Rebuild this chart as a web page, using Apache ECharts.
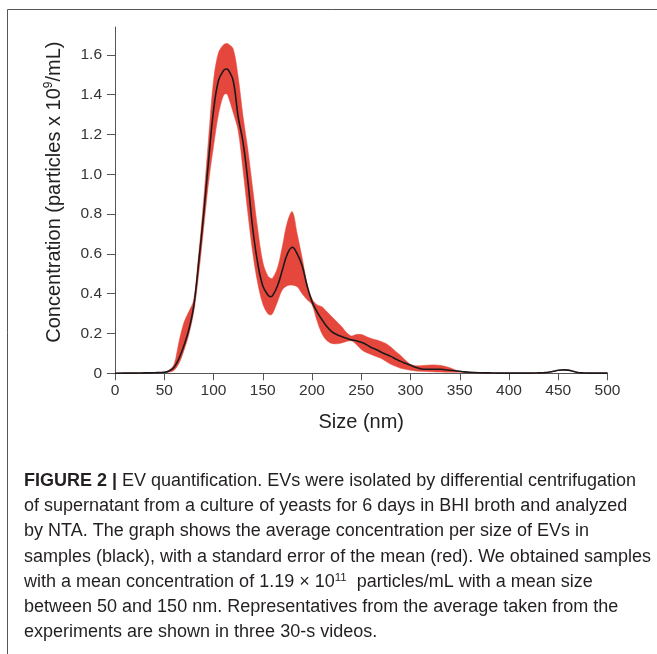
<!DOCTYPE html>
<html>
<head>
<meta charset="utf-8">
<script src="https://cdn.jsdelivr.net/npm/echarts@6/dist/echarts.min.js"></script>
<style>
  html, body { margin: 0; padding: 0; background: #fff; }
  #chart { width: 657px; height: 654px; }
</style>
</head>
<body>
<div id="chart"></div>
<script>
// particle size (nm)
var sizes = [0, 10, 20, 30, 40, 50, 55, 60, 65, 70, 75, 80, 85, 90, 95, 100, 105, 110, 113, 115,
  120, 125, 130, 135, 140, 145, 150, 155, 158, 160, 165, 170, 175, 180, 185, 190, 195, 200,
  205, 210, 215, 220, 225, 230, 235, 240, 245, 250, 255, 260, 265, 270, 275, 280, 285, 290,
  295, 300, 305, 310, 315, 320, 325, 330, 335, 340, 345, 350, 355, 360, 370, 380, 390, 400,
  410, 420, 430, 435, 440, 445, 450, 455, 460, 465, 470, 475, 480, 490, 500];

// average concentration (black)
var meanConc = [0.000, 0.001, 0.001, 0.002, 0.003, 0.005, 0.012, 0.030, 0.075, 0.140, 0.220, 0.340, 0.560, 0.800, 1.070, 1.320, 1.470, 1.520, 1.529, 1.525,
  1.470, 1.290, 1.160, 0.960, 0.720, 0.550, 0.440, 0.395, 0.385, 0.390, 0.440, 0.520, 0.600, 0.633, 0.600, 0.540, 0.440, 0.360,
  0.310, 0.270, 0.235, 0.210, 0.195, 0.185, 0.176, 0.168, 0.164, 0.156, 0.145, 0.130, 0.120, 0.107, 0.096, 0.085, 0.072, 0.060,
  0.050, 0.040, 0.030, 0.023, 0.020, 0.020, 0.020, 0.020, 0.018, 0.015, 0.013, 0.010, 0.007, 0.005, 0.003, 0.002, 0.001, 0.001,
  0.001, 0.001, 0.002, 0.003, 0.005, 0.010, 0.015, 0.017, 0.016, 0.010, 0.004, 0.002, 0.001, 0.001, 0.001];

// mean - SEM (lower edge of red band)
var lowerConc = [0.000, 0.001, 0.001, 0.002, 0.003, 0.004, 0.006, 0.015, 0.050, 0.115, 0.195, 0.310, 0.500, 0.730, 0.960, 1.140, 1.300, 1.395, 1.405, 1.390,
  1.310, 1.220, 1.020, 0.800, 0.600, 0.450, 0.350, 0.300, 0.293, 0.300, 0.360, 0.420, 0.440, 0.443, 0.435, 0.400, 0.370, 0.345,
  0.265, 0.200, 0.165, 0.150, 0.148, 0.152, 0.160, 0.163, 0.145, 0.120, 0.105, 0.095, 0.085, 0.075, 0.060, 0.045, 0.035, 0.025,
  0.020, 0.015, 0.012, 0.010, 0.009, 0.008, 0.007, 0.006, 0.005, 0.005, 0.005, 0.005, 0.004, 0.003, 0.003, 0.002, 0.001, 0.001,
  0.001, 0.001, 0.002, 0.003, 0.005, 0.010, 0.015, 0.017, 0.016, 0.010, 0.004, 0.002, 0.001, 0.001, 0.001];

// mean + SEM (upper edge of red band)
var upperConc = [0.000, 0.001, 0.001, 0.002, 0.003, 0.006, 0.016, 0.045, 0.160, 0.255, 0.310, 0.370, 0.600, 0.870, 1.180, 1.470, 1.610, 1.650, 1.657, 1.655,
  1.630, 1.490, 1.290, 1.120, 0.920, 0.720, 0.560, 0.490, 0.477, 0.478, 0.530, 0.640, 0.760, 0.812, 0.700, 0.580, 0.450, 0.375,
  0.345, 0.335, 0.310, 0.285, 0.260, 0.235, 0.205, 0.188, 0.195, 0.195, 0.185, 0.175, 0.168, 0.160, 0.150, 0.132, 0.110, 0.090,
  0.065, 0.045, 0.038, 0.038, 0.040, 0.042, 0.042, 0.040, 0.035, 0.028, 0.018, 0.010, 0.007, 0.005, 0.003, 0.002, 0.001, 0.001,
  0.001, 0.001, 0.002, 0.003, 0.005, 0.010, 0.015, 0.017, 0.016, 0.010, 0.004, 0.002, 0.001, 0.001, 0.001];

var yTicks = [0, 0.2, 0.4, 0.6, 0.8, 1.0, 1.2, 1.4, 1.6];
var xTicks = [0, 50, 100, 150, 200, 250, 300, 350, 400, 450, 500];

var captionLines = [
  '{b|FIGURE 2 |} EV quantification. EVs were isolated by differential centrifugation',
  'of supernatant from a culture of yeasts for 6 days in BHI broth and analyzed',
  'by NTA. The graph shows the average concentration per size of EVs in',
  'samples (black), with a standard error of the mean (red). We obtained samples',
  'with a mean concentration of 1.19 \u00d7 10{sup|11}  particles/mL with a mean size',
  'between 50 and 150 nm. Representatives from the average taken from the',
  'experiments are shown in three 30-s videos.'
];

var FONT = '"Liberation Sans", Arial, Helvetica, sans-serif';
var RED = '#e6473d';
var AXIS = '#555';

function pairs(vals) {
  return sizes.map(function (s, i) { return [s, vals[i]]; });
}

// red SEM band: one polygon, upper edge forward then lower edge back
function renderBand(params, api) {
  if (params.dataIndex !== 0) return;
  var pts = [];
  for (var i = 0; i < sizes.length; i++) {
    pts.push(api.coord([sizes[i], upperConc[i]]));
  }
  for (var j = sizes.length - 1; j >= 0; j--) {
    pts.push(api.coord([sizes[j], lowerConc[j]]));
  }
  return {
    type: 'polygon',
    shape: { points: pts, smooth: 0.35 },
    style: { fill: RED, stroke: RED, lineWidth: 0.5 }
  };
}

var myChart = echarts.init(document.getElementById('chart'));
var option = {
  animation: false,
  backgroundColor: '#fff',
  grid: {
    left: 115,
    right: 49.5,
    top: 27,
    bottom: 280.7,
    containLabel: false,
    outerBoundsMode: 'none'
  },
  xAxis: {
    type: 'value',
    min: 0,
    max: 500,
    interval: 50,
    name: 'Size (nm)',
    nameLocation: 'middle',
    nameGap: 39,
    nameTextStyle: { fontFamily: FONT, fontSize: 20, color: '#222' },
    axisLine: { show: true, onZero: false, lineStyle: { color: AXIS, width: 1 } },
    axisTick: { show: true, length: 7, lineStyle: { color: AXIS }, customValues: xTicks },
    axisLabel: { fontFamily: FONT, fontSize: 15.5, color: '#333', margin: 9, customValues: xTicks },
    splitLine: { show: false }
  },
  yAxis: {
    type: 'value',
    min: 0,
    max: 1.74,
    interval: 0.2,
    name: 'Concentration (particles x 10{sup|9}/mL)',
    nameLocation: 'middle',
    nameGap: 50,
    nameRotate: 90,
    nameTextStyle: {
      fontFamily: FONT, fontSize: 20, color: '#222',
      padding: [0, 0, 0, 16],
      rich: { sup: { fontFamily: FONT, fontSize: 12, color: '#222', padding: [0, 0, 10, 0] } }
    },
    axisLine: { show: true, lineStyle: { color: AXIS, width: 1 } },
    axisTick: { show: true, length: 8, lineStyle: { color: AXIS }, customValues: yTicks },
    axisLabel: {
      fontFamily: FONT, fontSize: 15.5, color: '#333', margin: 13,
      customValues: yTicks,
      formatter: function (v) { return v === 0 ? '0' : v.toFixed(1); }
    },
    splitLine: { show: false }
  },
  graphic: [
    {
      type: 'rect',
      shape: { x: 7.5, y: 9.5, width: 700, height: 700 },
      style: { fill: null, stroke: '#555', lineWidth: 1 },
      silent: true
    },
    {
      type: 'text',
      left: 24,
      top: 468,
      style: {
        text: captionLines.join('\n'),
        fontFamily: FONT,
        fontSize: 18,
        lineHeight: 25.3,
        fill: '#231f20',
        rich: {
          b: { fontFamily: FONT, fontSize: 18, fontWeight: 'bold', fill: '#231f20', lineHeight: 25.3 },
          sup: { fontFamily: FONT, fontSize: 11.5, fill: '#231f20', padding: [0, 0, 9, 0], lineHeight: 25.3 }
        }
      }
    }
  ],
  series: [
    {
      name: 'sem',
      type: 'custom',
      coordinateSystem: 'cartesian2d',
      renderItem: renderBand,
      data: [[sizes[0], lowerConc[0]]],
      silent: true,
      z: 2
    },
    {
      name: 'mean',
      type: 'line',
      data: pairs(meanConc),
      smooth: 0.4,
      showSymbol: false,
      symbol: 'none',
      lineStyle: { color: '#1a1a1a', width: 1.6 },
      z: 5
    }
  ]
};
myChart.setOption(option);
</script>
</body>
</html>
